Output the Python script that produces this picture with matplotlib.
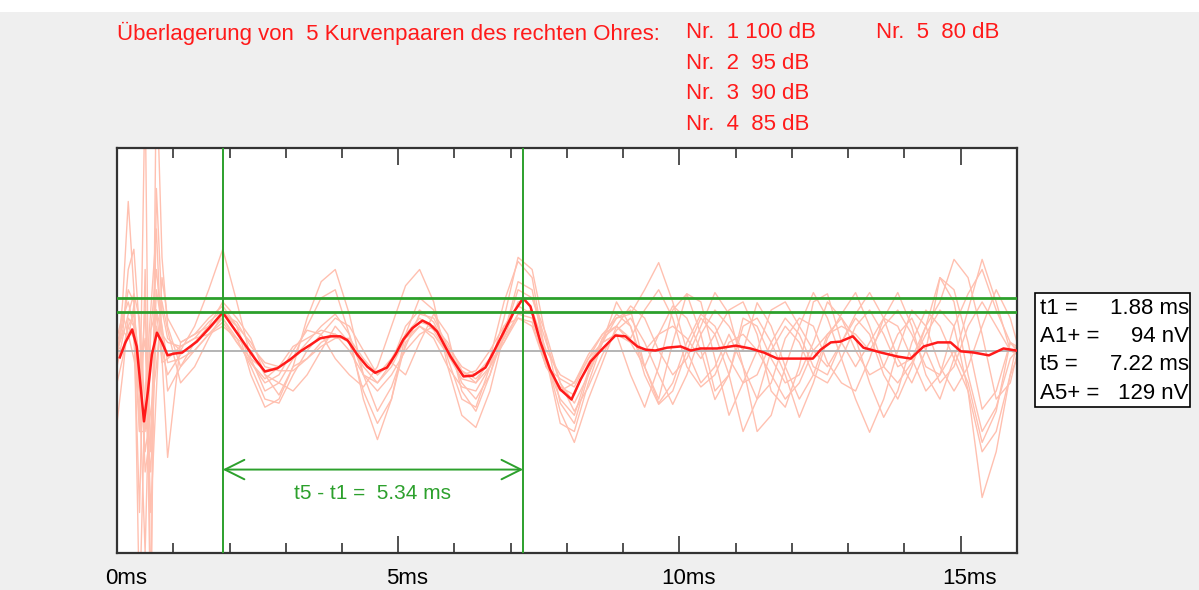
import matplotlib
matplotlib.use("Agg")
import matplotlib.pyplot as plt
from matplotlib.patches import Rectangle

plt.rcParams['font.family'] = ['Liberation Sans', 'DejaVu Sans']

# Mean curve (red), time in ms, amplitude in nV
t_mean = [0.05, 0.15, 0.27, 0.35, 0.48, 0.55, 0.62, 0.71, 0.8, 0.9,
          1.0, 1.16, 1.42, 1.65, 1.88, 2.05, 2.24, 2.45, 2.63, 2.85,
          3.08, 3.26, 3.45, 3.61, 3.8, 3.97, 4.1, 4.27, 4.45, 4.59,
          4.8, 4.95, 5.09, 5.25, 5.43, 5.56, 5.69, 5.93, 6.16, 6.33,
          6.55, 6.69, 6.87, 7.05, 7.22, 7.35, 7.53, 7.7, 7.88, 8.08,
          8.24, 8.42, 8.65, 8.86, 9.04, 9.25, 9.4, 9.57, 9.78, 10.02,
          10.2, 10.37, 10.67, 11.0, 11.26, 11.5, 11.74, 11.98, 12.37, 12.51,
          12.69, 12.86, 13.08, 13.27, 13.58, 13.88, 14.11, 14.34, 14.59, 14.82,
          15.0, 15.23, 15.5, 15.76, 15.98]
v_mean = [-17, 20, 52, 10, -175, -100, -10, 44, 20, -12,
          -8, -5, 22, 57, 94, 60, 22, -20, -52, -44,
          -22, -2, 15, 30, 35, 35, 25, -10, -40, -55,
          -42, -10, 27, 55, 74, 65, 47, -15, -64, -62,
          -42, -5, 44, 94, 129, 109, 20, -47, -96, -121,
          -72, -27, 7, 37, 35, 10, 2, 0, 7, 10,
          0, 5, 5, 12, 5, -5, -20, -20, -20, 2,
          20, 22, 35, 7, -5, -15, -20, 10, 20, 20,
          -2, -5, -12, 5, 0]

# Single curves (pale), sampled on a common time grid
t_pale = ([0.0, 0.1, 0.2, 0.3, 0.4, 0.5, 0.6, 0.7, 0.8, 0.9]
          + [round(1.13 + 0.25 * k, 2) for k in range(60)] + [16.0])

pale_1 = [-30, 120, 368, 150, -200, 650, -650, 400, 100, 30,
          0, 60, 150, 250, 120, -20, -100, -80,
          -20, 60, 130, 150, 40, -120, -220, -120,
          40, 130, 100, -20, -120, -140, -40, 80,
          230, 200, 30, -130, -180, -60, 30, 90,
          60, -40, -130, -80, 20, 90, 60, -20,
          -80, -60, 20, 80, 40, -40, -60, 20,
          80, 40, -60, -120, -40, 60, 180, 120,
          -60, -200, -140, -20, 0]
pale_2 = [-180, -60, 80, 60, -400, 200, -700, 700, 230, 60,
          -40, 20, 60, 120, 80, 30, -60, -110,
          -40, 80, 170, 200, 90, -60, -150, -90,
          10, 90, 80, 10, -80, -120, -60, 40,
          170, 150, -20, -150, -227, -120, -30, 60,
          110, 80, 0, -60, -20, 60, 143, 90,
          -40, -120, -80, 30, 80, 60, -30, -80,
          -100, -20, 80, 143, 60, -60, -120, -20,
          100, 225, 120, 0, -10]
pale_3 = [20, 60, 150, 120, -650, -100, 100, 300, -20, -264,
          20, 40, 80, 110, 60, -30, -80, -60,
          0, 50, 40, -20, -60, -90, -40, 60,
          160, 200, 120, -40, -160, -190, -100, 40,
          150, 130, 40, -80, -150, -90, -10, 50,
          80, 20, -60, -133, -60, 40, 100, 60,
          0, 118, 60, -40, -120, -60, 40, 80,
          30, -80, -165, -100, 20, 100, 60, -20,
          -100, -363, -250, -60, 20]
pale_4 = [0, 40, 200, 250, 50, -300, -200, 150, 60, -30,
          -20, 0, 40, 80, 30, -40, -120, -130,
          -60, 0, 40, 80, 60, 0, -60, -30,
          60, 100, 70, 0, -50, -80, -20, 120,
          220, 180, -20, -180, -200, -80, 20, 80,
          90, 150, 217, 120, 0, -80, -40, 40,
          -40, -200, -160, -40, 60, 143, 80, -20,
          -120, -202, -120, 0, 100, 60, -40, -100,
          -40, 60, 150, 80, 20]
pale_5 = [-20, 80, 120, 60, -100, -500, 50, 100, 40, 20,
          10, 30, 70, 100, 60, 20, -40, -50,
          -50, -20, 20, 40, 20, -40, -80, -40,
          30, 60, 40, -10, -70, -80, -40, 30,
          120, 130, 20, -80, -130, -60, 20, 120,
          60, -60, -133, -100, 0, 80, 40, -60,
          -200, -120, 0, 60, 20, -60, -80, -20,
          60, 100, 40, -40, -20, 60, 120, 225,
          180, 40, -120, -80, -10]
pale_6 = [10, 0, 60, 90, -30, -250, -150, -40, 120, 50,
          -80, -40, 30, 90, 60, -60, -140, -120,
          -40, -20, 10, 30, 30, -20, -60, -20,
          40, 70, 60, 10, -40, -60, -20, 30,
          90, 80, -30, -120, -160, -50, 30, 60,
          20, -40, 40, 110, 80, 0, -121, -60,
          60, 80, 20, -60, -165, -80, 30, 90,
          143, 60, -40, -80, -30, 40, 100, 60,
          -100, -250, -200, -60, -20]
pale_7 = [-40, 30, 90, 140, 80, -150, -300, 60, 0, -60,
          -10, 20, 50, 90, 70, 10, -30, -40,
          -20, 20, 60, 90, 40, -60, -80, -30,
          40, 80, 50, -10, -60, -50, 0, 60,
          110, 90, -40, -100, -80, -20, 40, 80,
          100, -40, -120, 20, 140, 120, -20, -160,
          -80, 0, 100, 120, 60, 0, -40, 20,
          90, 143, 80, -20, -80, 0, 180, 150,
          20, -145, -100, 20, 10]
pale_8 = [0, 50, 30, 110, -60, 30, -400, -100, 180, 80,
          20, 40, 60, 80, 20, -30, -70, -40,
          10, 30, 50, 40, 0, -60, -100, -60,
          0, 40, 60, 20, -50, -70, -30, 20,
          80, 70, -40, -90, -110, -30, 20, 40,
          -60, -140, -40, 100, 140, 40, -100, -60,
          80, 60, -20, -80, -60, 20, 120, 80,
          0, -60, -40, 40, 80, 0, -80, -40,
          60, 120, 60, 0, -5]
pale_9 = [-80, -20, 60, 30, -200, -200, 50, 200, 50, -100,
          -40, 0, 40, 60, 30, 0, -60, -80,
          -100, -60, 0, 60, 20, -100, -180, -120,
          20, 60, 30, -40, -90, -100, -40, 20,
          90, 100, 0, -60, -80, -10, 40, 60,
          30, 100, 150, 80, -40, -90, -60, 20,
          40, 0, -60, -120, -80, 0, 40, 60,
          40, 0, 60, 100, 40, -40, -60, 0,
          -80, -227, -150, 20, 0]
pale_10 = [30, 90, 40, -20, -100, 100, -250, 100, -30, -20,
           10, 30, 40, 70, 20, -20, -50, -40,
           -20, 10, 30, 40, 20, -30, -60, -30,
           -60, 20, 90, 40, -100, -150, -60, 60,
           80, 60, -40, -70, -90, -20, 20, 40,
           20, 0, 40, 60, 30, -20, 40, 100,
           120, 40, -100, -140, -40, 120, 140, 20,
           -40, 20, 80, 60, -20, -100, -60, 60,
           140, 200, 100, 20, 0]
pale_curves = [pale_1, pale_2, pale_3, pale_4, pale_5,
               pale_6, pale_7, pale_8, pale_9, pale_10]

# Marked waves
t1, a1 = 1.88, 94
t5, a5 = 7.22, 129
levels = ["Nr.  1 100 dB", "Nr.  2  95 dB", "Nr.  3  90 dB", "Nr.  4  85 dB"]
level_5 = "Nr.  5  80 dB"
tick_ms = [0, 5, 10, 15]

W, H = 1199, 590
red = '#ff1a1a'
green = '#2ca02c'
fs = 16

fig = plt.figure(figsize=(W / 100, H / 100), dpi=100, facecolor='#efefef')
fig.patches.append(Rectangle((0, 1 - 12 / H), 1, 12 / H, transform=fig.transFigure,
                             facecolor='white', edgecolor='none'))

ax = fig.add_axes([117 / W, 1 - 553 / H, 900 / W, 405 / H])
ax.set_xlim(0, 16)
ax.set_ylim(-500, 500)

for v in pale_curves:
    ax.plot(t_pale, v, color='#ffc0b0', lw=1.0, zorder=1)
ax.axhline(0, color='#b4b4b4', lw=1.4, zorder=2)
ax.plot(t_mean, v_mean, color=red, lw=1.8, zorder=3)

# green markers
ax.axvline(t1, color=green, lw=1.4, zorder=4)
ax.axvline(t5, color=green, lw=1.4, zorder=4)
ax.axhline(a1, color=green, lw=2.0, zorder=4)
ax.axhline(a5, color=green, lw=2.0, zorder=4)
ax.annotate('', xy=(t5, -294), xytext=(t1, -294),
            arrowprops=dict(arrowstyle='<->,head_length=1.4,head_width=0.7',
                            color=green, lw=1.4, shrinkA=0, shrinkB=0,
                            mutation_scale=10), zorder=4)
ax.text((t1 + t5) / 2, -352, f"t5 - t1 =  {t5 - t1:.2f} ms", color=green,
        fontsize=15, ha='center', va='center')

ax.set_xticks(tick_ms)
ax.set_xticks(range(0, 17), minor=True)
ax.tick_params(which='both', direction='in', top=True, bottom=True,
               left=False, labelleft=False, labelbottom=False,
               width=1.1, color='#222222')
ax.tick_params(which='major', length=12)
ax.tick_params(which='minor', length=7.2)
for s in ax.spines.values():
    s.set_linewidth(1.6)
    s.set_color('#333333')

# x labels sit right at the bottom edge of the picture
for t in tick_ms:
    ax.annotate(f"{t}ms", xy=(t + 0.16, 0), xycoords=('data', 'figure fraction'),
                xytext=(0, 1), textcoords='offset pixels',
                fontsize=fs, ha='center', va='bottom')

# header text
fig.text(117 / W, 1 - 33 / H, "Überlagerung von  5 Kurvenpaaren des rechten Ohres:",
         color=red, fontsize=fs, va='center', ha='left')
for i, s in enumerate(levels):
    fig.text(686 / W, 1 - (33 + 30.5 * i) / H, s, color=red, fontsize=fs,
             va='center', ha='left')
fig.text(876 / W, 1 - 33 / H, level_5, color=red, fontsize=fs, va='center', ha='left')

# info box
fig.patches.append(Rectangle((1035 / W, 1 - 407 / H), 155 / W, 114 / H,
                             transform=fig.transFigure, facecolor='white',
                             edgecolor='black', lw=1.2))
rows = [("t1 =", f"{t1:.2f} ms"), ("A1+ =", f"{a1} nV"),
        ("t5 =", f"{t5:.2f} ms"), ("A5+ =", f"{a5} nV")]
for i, (lab, val) in enumerate(rows):
    y = 1 - (308 + 28.5 * i) / H
    fig.text(1040 / W, y, lab, fontsize=fs, va='center', ha='left')
    fig.text(1189 / W, y, val, fontsize=fs, va='center', ha='right')

fig.savefig('out.png', dpi=100, facecolor=fig.get_facecolor())
